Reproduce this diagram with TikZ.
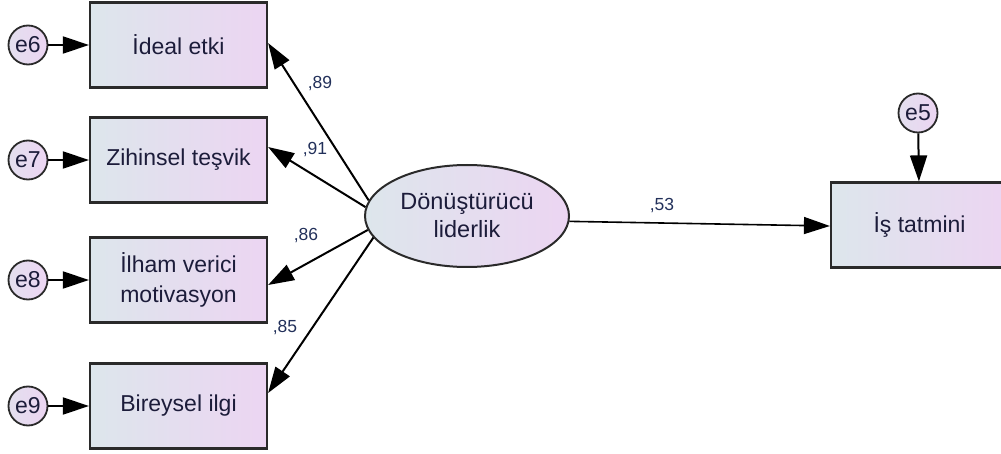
\documentclass[tikz,border=0pt]{standalone}
\usepackage{fontspec}
\setmainfont{Liberation Sans}
\usetikzlibrary{shapes.geometric,arrows.meta}
\definecolor{txt}{HTML}{1C1C3A}
\definecolor{lab}{HTML}{22305A}
\definecolor{fillL}{HTML}{DDE6EC}
\definecolor{fillR}{HTML}{ECD5F2}
\definecolor{edge}{HTML}{2A2A2A}
\tikzset{
  obsbox/.style={draw=edge, line width=2.2pt, left color=fillL, right color=fillR,
    minimum width=177pt, minimum height=85pt, inner sep=0pt, align=center,
    font=\fontsize{23}{30}\selectfont, text=txt},
  errc/.style={circle, draw=edge, line width=1.8pt, left color=fillL!60!fillR, right color=fillR,
    minimum size=39pt, inner sep=0pt, font=\fontsize{23}{27}\selectfont, text=txt},
  latent/.style={ellipse, draw=edge, line width=2pt, left color=fillL, right color=fillR,
    minimum width=204pt, minimum height=102pt, inner sep=0pt, align=center,
    font=\fontsize{23.5}{28}\selectfont, text=txt},
  arr/.style={line width=2pt, draw=black, -{Triangle[length=26pt,width=17pt]}},
  coef/.style={font=\fontsize{17.5}{20}\selectfont, text=lab, inner sep=0pt},
}
\begin{document}
\begin{tikzpicture}[x=1pt,y=-1pt]
\useasboundingbox (0,0) rectangle (1001,454);
\node[obsbox] (b1) at (178.5,45) {İdeal etki};
\node[obsbox] (b2) at (178.5,160) {Zihinsel teşvik};
\node[obsbox] (b3) at (178.5,280) {İlham verici\\motivasyon};
\node[obsbox] (b4) at (178.5,406) {Bireysel ilgi};
\node[obsbox] (b5) at (919.5,225) {İş tatmini};
\node[errc] (e6) at (28,45) {e6};
\node[errc] (e7) at (28,160) {e7};
\node[errc] (e8) at (28,280) {e8};
\node[errc] (e9) at (28,406) {e9};
\node[errc] (e5) at (918,113) {e5};
\node[latent] (f) at (467,216) {Dönüştürücü\\liderlik};
\draw[arr] (e6) -- (b1);
\draw[arr] (e7) -- (b2);
\draw[arr] (e8) -- (b3);
\draw[arr] (e9) -- (b4);
\draw[arr] (e5) -- (b5);
\draw[arr] (f.171) -- ([yshift=2pt]b1.east);
\draw[arr] (f.175) -- ([yshift=13pt]b2.east);
\draw[arr] (f.188) -- ([yshift=-5pt]b3.east);
\draw[arr] (f.193) -- ([yshift=13pt]b4.east);
\draw[arr, line width=1.6pt] (f.-3) -- ([yshift=-1pt]b5.west);
\node[coef] (c1) at (320,84) {,89};
\node[coef] (c2) at (315,150) {,91};
\node[coef] (c3) at (306,236) {,86};
\node[coef] (c4) at (285,328) {,85};
\node[coef] (c5) at (662,206) {,53};
\end{tikzpicture}
\end{document}
